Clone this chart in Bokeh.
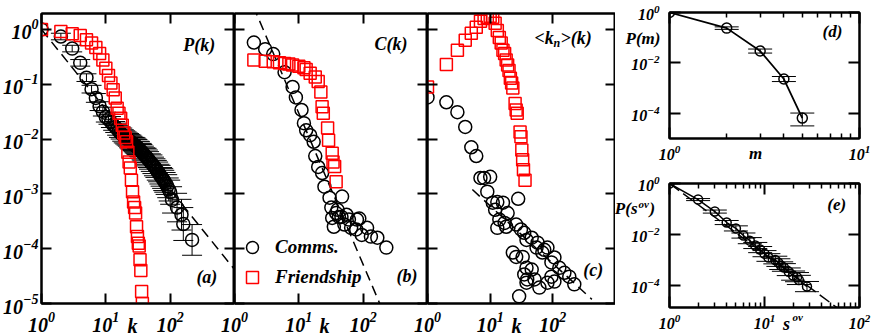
import numpy as np
from bokeh.plotting import figure
from bokeh.models import (LogAxis, FixedTicker, Whisker, TeeHead, ColumnDataSource,
                          Label, Legend, LegendItem, Range1d)
from bokeh.layouts import row, column
from bokeh.embed import file_html
from bokeh.resources import INLINE

FONT = "Liberation Serif"
RED = "#ff0000"

# ---------------- data (log10 of the plotted quantity) ----------------
# (a) degree distribution P(k), communication network (circles)
a_comm_k = [1, 2, 3, 4, 5, 6, 7, 8, 9, 10,
            11, 12, 13, 14, 15, 16, 17, 18, 19, 20,
            21, 22, 23, 24, 25, 26, 27, 28, 29, 30,
            31, 33, 34, 36, 37, 39, 41, 43, 45, 47,
            50, 53, 56, 59, 62, 65, 68, 71, 75, 78,
            81, 85, 90, 95, 100, 107, 128, 150, 160, 219]
a_comm_logP = [0, -0.13, -0.35, -0.61, -0.88, -1.09, -1.25, -1.40, -1.50, -1.60,
               -1.64, -1.69, -1.74, -1.78, -1.82, -1.86, -1.89, -1.92, -1.95, -1.97,
               -1.99, -2.01, -2.03, -2.05, -2.06, -2.08, -2.10, -2.11, -2.12, -2.14,
               -2.15, -2.18, -2.20, -2.23, -2.25, -2.28, -2.31, -2.33, -2.36, -2.39,
               -2.43, -2.46, -2.50, -2.53, -2.57, -2.60, -2.64, -2.67, -2.71, -2.74,
               -2.77, -2.81, -2.86, -2.92, -2.97, -3.11, -3.25, -3.38, -3.55, -3.84]
a_comm_err = [0, 0.06, 0.06, 0.06, 0.07, 0.07, 0.08, 0.08, 0.08, 0.09,
              0.09, 0.10, 0.10, 0.10, 0.11, 0.11, 0.11, 0.12, 0.12, 0.12,
              0.12, 0.12, 0.13, 0.13, 0.13, 0.13, 0.13, 0.14, 0.14, 0.14,
              0.14, 0.14, 0.15, 0.15, 0.15, 0.15, 0.15, 0.16, 0.16, 0.16,
              0.16, 0.17, 0.17, 0.17, 0.18, 0.18, 0.18, 0.19, 0.19, 0.20,
              0.20, 0.20, 0.21, 0.21, 0.22, 0.24, 0.26, 0.28, 0.30, 0.28]
# (a) friendship network (squares)
a_fr_k = [1, 2, 3, 4, 5, 6, 7, 8, 9, 10,
          11, 12, 13, 14, 15, 16, 17, 18, 19, 20,
          21, 22, 23, 24, 25, 26, 27, 28, 29, 30,
          31, 32, 33, 34, 35, 36, 37]
a_fr_logP = [0, -0.04, -0.08, -0.11, -0.19, -0.25, -0.33, -0.44, -0.56, -0.71,
             -0.84, -0.98, -1.10, -1.25, -1.44, -1.53, -1.62, -1.75, -1.89, -1.97,
             -2.05, -2.24, -2.42, -2.53, -2.75, -2.96, -3.15, -3.25, -3.35, -3.60,
             -3.78, -3.90, -3.95, -4.20, -4.40, -4.78, -5.00]
a_fit_logA, a_fit_exp, a_fit_k = 0.0, -1.46, [1, 1000]

# (b) clustering C(k)
b_comm_k = [2, 3, 4, 6, 8, 9, 11, 12, 13, 15, 17, 18, 20, 23, 25, 30, 32, 33, 35, 38,
            40, 42, 46, 47, 51, 55, 60, 65, 78, 80, 87, 95, 115, 132, 166, 229]
b_comm_logC = [-0.24, -0.36, -0.45, -0.78, -1.05, -1.24, -1.47, -1.71, -1.84, -1.93,
               -2.05, -2.31, -2.51, -2.62, -2.87, -3.07, -3.25, -3.44, -3.60, -3.35,
               -3.29, -3.42, -3.42, -3.05, -3.56, -3.38, -3.47, -3.62, -3.65, -3.47,
               -3.45, -3.75, -3.62, -3.78, -3.80, -3.98]
b_fr_k = [2, 3, 4, 5, 6, 7, 8, 10, 12, 13, 15, 18, 20, 22, 23, 24, 28, 29, 33, 34, 36, 38]
b_fr_logC = [-0.56, -0.58, -0.59, -0.61, -0.62, -0.63, -0.65, -0.67, -0.70, -0.73, -0.80,
             -0.87, -0.95, -1.14, -1.41, -1.53, -1.80, -2.02, -2.26, -2.42, -2.50, -2.78]
b_fit_logA, b_fit_exp, b_fit_k = 1.23, -2.76, [1, 1000]

# (c) average nearest-neighbour degree <k_n>(k)
c_comm_k = [1, 2, 3, 4, 5, 6, 7, 8, 9, 10, 11, 13, 12, 16, 19, 14, 13, 17, 18, 28,
            26, 31, 35, 38, 46, 57, 73, 82, 106, 55, 68, 23, 26, 33, 38, 46, 95, 127,
            153, 35, 39, 51, 95, 106, 38, 61, 82, 183, 220, 29]
c_comm_logY = [-1.24, -1.33, -1.51, -1.78, -2.15, -2.31, -2.71, -2.71, -2.96, -2.69,
               -3.16, -3.15, -3.29, -3.16, -3.35, -3.47, -3.62, -3.53, -3.60, -3.09,
               -3.56, -3.65, -3.71, -3.84, -3.80, -3.89, -4.02, -3.98, -4.16, -3.98,
               -4.07, -4.07, -4.15, -4.15, -4.35, -4.38, -4.25, -4.35, -4.44, -4.47,
               -4.56, -4.56, -4.51, -4.60, -4.62, -4.71, -4.62, -4.51, -4.65, -4.87]
c_fr_k = [1, 2, 3, 4, 5, 6, 7, 8, 9, 10, 11, 12, 13, 14, 15, 16, 17, 18, 19, 20,
          21, 22, 23, 25, 26, 27, 30, 31, 32, 33, 34, 36]
c_fr_logY = [-1.05, -0.64, -0.38, -0.20, -0.07, 0.04, 0.15, 0.20, 0.22, 0.24,
             0.22, 0.11, -0.02, -0.15, -0.25, -0.38, -0.44, -0.56, -0.65, -0.75,
             -0.89, -0.98, -1.07, -1.35, -1.47, -1.53, -1.87, -1.96, -2.20, -2.38,
             -2.56, -2.75]
c_fit_logA, c_fit_exp, c_fit_k = -2.17, -1.05, [5.2, 420]

# (d) P(m)
d_m = [1, 2, 3, 4, 5]
d_logP = [0, -0.62, -1.53, -2.64, -4.19]
d_err_hi = [0, 0.05, 0.08, 0.10, 0.20]
d_err_lo = [0, 0.05, 0.08, 0.10, 0.31]

# (e) P(s_ov)
e_s = [1, 2, 3, 4, 5, 6, 7, 8, 9, 10, 11, 13, 14, 15, 16, 18, 20, 22, 23, 28]
e_logP = [0, -0.63, -1.10, -1.53, -1.76, -2.04, -2.24, -2.43, -2.59, -2.75,
          -2.90, -3.00, -3.10, -3.22, -3.29, -3.46, -3.61, -3.67, -3.78, -4.04]
e_err = [0, 0.04, 0.06, 0.08, 0.10, 0.10, 0.12, 0.12, 0.12, 0.12,
         0.15, 0.15, 0.15, 0.15, 0.15, 0.15, 0.18, 0.18, 0.18, 0.20]
e_fit_logA, e_fit_exp, e_fit_k = 0.0, -2.76, [1, 60]

DECADES = [1, 1e-1, 1e-2, 1e-3, 1e-4, 1e-5]


def pw(lst):
    return (10.0 ** np.array(lst, dtype=float)).tolist()


def fit_y(logA, ex, ks):
    return [10 ** logA * k ** ex for k in ks]


def style_axis(ax, ticks, minor=None, labels=True, size="20px", tin=10, standoff=8):
    ax.ticker = FixedTicker(ticks=ticks, minor_ticks=minor or [])
    ax.major_tick_in = tin
    ax.major_tick_out = 0
    ax.minor_tick_in = 5
    ax.minor_tick_out = 0
    ax.axis_line_width = 2
    ax.axis_line_color = "black"
    ax.major_tick_line_width = 2
    ax.minor_tick_line_width = 1.5
    ax.major_label_text_font = FONT
    ax.major_label_text_font_style = "bold italic"
    ax.major_label_text_color = "black"
    if labels:
        ax.major_label_text_font_size = size
        ax.major_label_standoff = standoff
    else:
        ax.major_label_overrides = {t: "" for t in ticks}
        ax.major_label_text_font_size = "1px"
        ax.major_label_standoff = 0


def make_fig(fw, fh, xr, yr, bl, br, bt, bb):
    p = figure(frame_width=fw, frame_height=fh, x_axis_type="log", y_axis_type="log",
               x_range=Range1d(*xr), y_range=Range1d(*yr), output_backend="svg",
               toolbar_location=None, min_border_left=bl, min_border_right=br,
               min_border_top=bt, min_border_bottom=bb)
    p.grid.visible = False
    p.outline_line_color = "black"
    p.outline_line_width = 2
    p.border_fill_color = None
    p.background_fill_color = None
    p.add_layout(LogAxis(), "above")
    p.add_layout(LogAxis(), "right")
    return p


def txt(p, x, y, text, size="18px", align="center", xoff=0, baseline="middle"):
    p.add_layout(Label(x=x, y=y, text=text, x_offset=xoff, text_font=FONT,
                       text_font_style="bold italic", text_font_size=size,
                       text_align=align, text_baseline=baseline, text_color="black"))


def whisker(p, x, y, lo, hi, size):
    keep = [i for i in range(len(x)) if hi[i] > 0 or lo[i] > 0]
    src = ColumnDataSource(dict(
        x=[x[i] for i in keep],
        lower=[10 ** (y[i] - lo[i]) for i in keep],
        upper=[10 ** (y[i] + hi[i]) for i in keep]))
    p.add_layout(Whisker(base="x", lower="lower", upper="upper", source=src,
                         dimension="height", line_color="black", line_width=1,
                         upper_head=TeeHead(size=size, line_color="black", line_width=1),
                         lower_head=TeeHead(size=size, line_color="black", line_width=1)))


YR = (1e-5, 10 ** 0.29)

# ---------------- panel (a) ----------------
pa = make_fig(193, 290, (1, 1000), YR, 37, 0, 13, 32)
style_axis(pa.left[0], DECADES, standoff=3)
style_axis(pa.below[0], [1, 10, 100], standoff=8)
style_axis(pa.above[0], [1, 10, 100, 1000], labels=False)
style_axis(pa.right[0], DECADES, labels=False)
whisker(pa, a_comm_k, a_comm_logP, a_comm_err, a_comm_err, 20)
pa.line(a_fit_k, fit_y(a_fit_logA, a_fit_exp, a_fit_k), line_color="black",
        line_width=1.5, line_dash="10 6")
pa.scatter(a_comm_k, pw(a_comm_logP), marker="circle", size=13, fill_color=None,
           line_color="black", line_width=1.5)
pa.scatter(a_fr_k, pw(a_fr_logP), marker="square", size=12, fill_color=None,
           line_color=RED, line_width=1.5)
txt(pa, 282, 10 ** -0.29, "P(k)")
txt(pa, 372, 10 ** -4.51, "(a)")

# ---------------- panel (b) ----------------
pb = make_fig(193, 290, (1, 1000), YR, 20, 0, 13, 32)
pb.margin = (0, 0, 0, -20)
style_axis(pb.left[0], DECADES, labels=False)
style_axis(pb.below[0], [1, 10, 100], standoff=8)
style_axis(pb.above[0], [1, 10, 100, 1000], labels=False)
style_axis(pb.right[0], DECADES, labels=False)
pb.line(b_fit_k, fit_y(b_fit_logA, b_fit_exp, b_fit_k), line_color="black",
        line_width=1.5, line_dash="10 6")
rc = pb.scatter(b_comm_k, pw(b_comm_logC), marker="circle", size=13, fill_color=None,
                line_color="black", line_width=1.5)
rs = pb.scatter(b_fr_k, pw(b_fr_logC), marker="square", size=12, fill_color=None,
                line_color=RED, line_width=1.5)
leg = Legend(items=[LegendItem(label="Comms.", renderers=[rc]),
                    LegendItem(label="Friendship", renderers=[rs])],
             location=(3, 11), orientation="vertical", border_line_color=None,
             background_fill_alpha=0, padding=0, margin=0, spacing=-8,
             glyph_width=30, glyph_height=30, label_standoff=8, label_height=30,
             label_text_font=FONT, label_text_font_style="bold italic",
             label_text_font_size="19px", label_text_color="black")
pb.add_layout(leg)
txt(pb, 270, 10 ** -0.27, "C(k)")
txt(pb, 480, 10 ** -4.49, "(b)")

# ---------------- panel (c) ----------------
pc = make_fig(188, 290, (1, 1000), YR, 20, 0, 13, 32)
pc.margin = (0, 0, 0, -20)
style_axis(pc.left[0], DECADES, labels=False)
style_axis(pc.below[0], [1, 10, 100], standoff=8)
style_axis(pc.above[0], [1, 10, 100, 1000], labels=False)
style_axis(pc.right[0], DECADES, labels=False)
pc.line(c_fit_k, fit_y(c_fit_logA, c_fit_exp, c_fit_k), line_color="black",
        line_width=1.5, line_dash="10 6")
pc.scatter(c_comm_k, pw(c_comm_logY), marker="circle", size=13, fill_color=None,
           line_color="black", line_width=1.5)
pc.scatter(c_fr_k, pw(c_fr_logY), marker="square", size=12, fill_color=None,
           line_color=RED, line_width=1.5)
txt(pc, 51, 10 ** -0.16, "<k", align="left")
txt(pc, 51, 10 ** -0.25, "n", size="12px", align="left", xoff=19)
txt(pc, 51, 10 ** -0.16, ">(k)", align="left", xoff=26)
txt(pc, 443, 10 ** -4.38, "(c)")

# ---------------- panel (d) ----------------
pd = make_fig(190, 126, (1, 10), (1e-5, 1), 54, 12, 12, 30)
style_axis(pd.left[0], [1, 1e-2, 1e-4], size="16px", tin=11, standoff=10)
style_axis(pd.right[0], [1, 1e-2, 1e-4], labels=False, tin=11)
style_axis(pd.below[0], [1, 10], minor=[2, 3, 4, 5, 6, 7, 8, 9], size="16px", tin=11, standoff=6)
style_axis(pd.above[0], [1, 10], minor=[2, 3, 4, 5, 6, 7, 8, 9], labels=False, tin=11)
whisker(pd, d_m, d_logP, d_err_lo, d_err_hi, 24)
pd.line(d_m, pw(d_logP), line_color="black", line_width=1.8)
pd.scatter(d_m, pw(d_logP), marker="circle", size=10, fill_color=None,
           line_color="black", line_width=1.5)
txt(pd, 7.2, 10 ** -0.77, "(d)", size="17px")

# ---------------- panel (e) ----------------
pe = make_fig(190, 124, (1, 100), (10 ** -4.86, 1), 54, 12, 15, 28)
MIN_E = [2, 3, 4, 5, 6, 7, 8, 9, 20, 30, 40, 50, 60, 70, 80, 90]
style_axis(pe.left[0], [1, 1e-2, 1e-4], size="16px", tin=11, standoff=10)
style_axis(pe.right[0], [1, 1e-2, 1e-4], labels=False, tin=11)
style_axis(pe.below[0], [1, 10, 100], minor=MIN_E, size="16px", tin=11, standoff=6)
style_axis(pe.above[0], [1, 10, 100], minor=MIN_E, labels=False, tin=11)
whisker(pe, e_s, e_logP, e_err, e_err, 24)
pe.line(e_fit_k, fit_y(e_fit_logA, e_fit_exp, e_fit_k), line_color="black",
        line_width=1.5, line_dash="12 5")
pe.line(e_s, pw(e_logP), line_color="black", line_width=1.5)
pe.scatter(e_s, pw(e_logP), marker="circle", size=9, fill_color=None,
           line_color="black", line_width=1.5)
txt(pe, 57.5, 10 ** -0.82, "(e)", size="17px")

# ---------------- transparent text layer for labels outside the frames ----------------
ov = figure(width=872, height=336, x_range=Range1d(0, 872), y_range=Range1d(336, 0),
            output_backend="svg", toolbar_location=None,
            x_axis_location=None, y_axis_location=None, min_border=0)
ov.grid.visible = False
ov.outline_line_color = None
ov.border_fill_color = None
ov.background_fill_color = None
ov.margin = (-335, 0, 0, 0)
for xk in (132, 324, 516):
    txt(ov, xk, 325, "k", size="20px")
txt(ov, 755, 153, "m", size="17px")
txt(ov, 786, 323, "s", size="18px")
txt(ov, 792, 316, "ov", size="11px", align="left")
txt(ov, 660, 38, "P(m)", size="17px", align="right")
txt(ov, 637, 208, "P(s", size="17px", align="right")
txt(ov, 638, 203, "ov", size="11px", align="left")
txt(ov, 649, 208, ")", size="17px", align="left")

layout = column(row(pa, pb, pc, column(pd, pe)), ov)
open("out.html", "w").write(file_html(layout, INLINE))
